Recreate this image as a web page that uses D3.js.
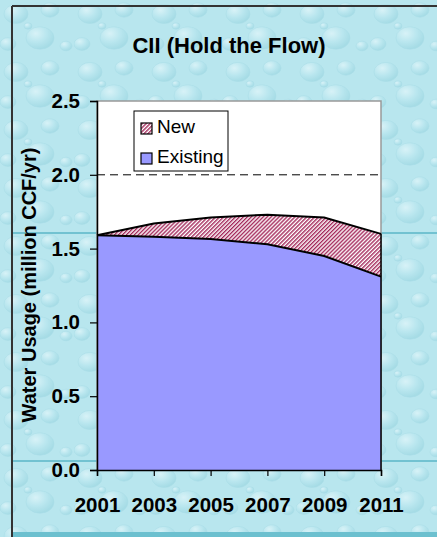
<!DOCTYPE html>
<html>
<head>
<meta charset="utf-8">
<script src="https://cdn.jsdelivr.net/npm/d3@7"></script>
<style>
  body { margin: 0; background: #fff; }
  svg { display: block; font-family: "Liberation Sans", Arial, sans-serif; }
</style>
</head>
<body>
<svg id="chart" width="437" height="537"></svg>
<script>
// data
const years = ["2001", "2003", "2005", "2007", "2009", "2011"];
const existing = [1.59, 1.58, 1.565, 1.53, 1.45, 1.31];
const added = [0.0, 0.09, 0.145, 0.20, 0.26, 0.29];
const yTicks = [0, 0.5, 1.0, 1.5, 2.0, 2.5];
const target = 2.0;

const width = 437, height = 537;
const m = { left: 97, right: 381, top: 101, bottom: 470 };

const svg = d3.select("#chart");
const defs = svg.append("defs");

// water texture background (rough stand-in)
const bg = defs.append("radialGradient").attr("id", "drop")
  .attr("cx", "35%").attr("cy", "30%").attr("r", "70%");
bg.append("stop").attr("offset", "0%").attr("stop-color", "#dff4f8");
bg.append("stop").attr("offset", "55%").attr("stop-color", "#b4e3ec");
bg.append("stop").attr("offset", "100%").attr("stop-color", "#98d4df");

const tex = defs.append("pattern").attr("id", "water")
  .attr("patternUnits", "userSpaceOnUse").attr("width", 74).attr("height", 58);
tex.append("rect").attr("width", 74).attr("height", 58).attr("fill", "#b2e2eb");
[[16, 14, 12], [50, 10, 9], [40, 38, 14], [8, 44, 8], [66, 46, 6], [28, 26, 4]].forEach(([cx, cy, r]) => {
  tex.append("ellipse").attr("cx", cx).attr("cy", cy).attr("rx", r).attr("ry", r * 0.8)
    .attr("fill", "url(#drop)").attr("stroke", "#9ad5e0").attr("stroke-width", 0.5);
});

// hatch for "New"
const hatch = defs.append("pattern").attr("id", "hatch")
  .attr("patternUnits", "userSpaceOnUse").attr("width", 2.8).attr("height", 2.8)
  .attr("patternTransform", "rotate(45)");
hatch.append("rect").attr("width", 2.8).attr("height", 2.8).attr("fill", "#fff");
hatch.append("line").attr("x1", 0.7).attr("y1", 0).attr("x2", 0.7).attr("y2", 2.8)
  .attr("stroke", "#a3285a").attr("stroke-width", 1.4);

svg.append("rect").attr("width", width).attr("height", height).attr("fill", "url(#water)");
svg.append("rect").attr("width", width).attr("height", height).attr("fill", "#c8eef4").attr("opacity", 0.3);

// tile seams
[233, 461].forEach(yy => svg.append("line").attr("x1", 12).attr("x2", width)
  .attr("y1", yy).attr("y2", yy).attr("stroke", "#72c2d1").attr("stroke-width", 2));
svg.append("rect").attr("x", 12).attr("y", 532).attr("width", width).attr("height", 5).attr("fill", "#6cc0cf");

// frame
svg.append("line").attr("x1", 12).attr("x2", width).attr("y1", 6).attr("y2", 6).attr("stroke", "#333").attr("stroke-width", 2);
svg.append("line").attr("x1", 12).attr("x2", 12).attr("y1", 6).attr("y2", height).attr("stroke", "#333").attr("stroke-width", 2);

// scales
const x = d3.scalePoint().domain(years).range([m.left, m.right]);
const y = d3.scaleLinear().domain([0, 2.5]).range([m.bottom, m.top]);

// plot area
svg.append("rect").attr("x", m.left).attr("y", m.top)
  .attr("width", m.right - m.left).attr("height", m.bottom - m.top)
  .attr("fill", "#fff").attr("stroke", "#999").attr("stroke-width", 1.5);

const rows = years.map((yr, i) => ({ yr, existing: existing[i], added: added[i] }));
const stack = d3.stack().keys(["existing", "added"])(rows);

const area = d3.area().x(d => x(d.data.yr)).y0(d => y(d[0])).y1(d => y(d[1]));
const edge = d3.line().x(d => x(d.data.yr)).y(d => y(d[1]));

svg.append("path").attr("d", area(stack[1])).attr("fill", "url(#hatch)");
svg.append("path").attr("d", area(stack[0])).attr("fill", "#9999ff");
svg.append("path").attr("d", edge(stack[1])).attr("fill", "none").attr("stroke", "#000").attr("stroke-width", 2);
svg.append("path").attr("d", edge(stack[0])).attr("fill", "none").attr("stroke", "#000").attr("stroke-width", 2);
svg.append("line").attr("x1", m.right).attr("x2", m.right)
  .attr("y1", y(existing[5] + added[5])).attr("y2", m.bottom).attr("stroke", "#000").attr("stroke-width", 1.5);

// target line
svg.append("line").attr("x1", m.left).attr("x2", m.right)
  .attr("y1", y(target)).attr("y2", y(target))
  .attr("stroke", "#000").attr("stroke-width", 1).attr("stroke-dasharray", "8,5");

// axes
const yAxis = svg.append("g").attr("transform", `translate(${m.left},0)`)
  .call(d3.axisLeft(y).tickValues(yTicks).tickFormat(d3.format(".1f")).tickSize(7).tickPadding(10));
const xAxis = svg.append("g").attr("transform", `translate(0,${m.bottom})`)
  .call(d3.axisBottom(x).tickSize(6).tickPadding(21));
[yAxis, xAxis].forEach(g => {
  g.select(".domain").attr("stroke", "#000").attr("stroke-width", 1.5);
  g.selectAll(".tick line").attr("stroke", "#000").attr("stroke-width", 1.2);
  g.selectAll("text").attr("fill", "#000").style("font-size", "20.5px").style("font-weight", "bold")
    .style("font-family", "'Liberation Sans', Arial, sans-serif");
});

// titles
svg.append("text").attr("x", 229).attr("y", 53).attr("text-anchor", "middle")
  .style("font-size", "22px").style("font-weight", "bold").text("CII (Hold the Flow)");
svg.append("text").attr("transform", `translate(36,285) rotate(-90)`)
  .attr("text-anchor", "middle").style("font-size", "20px").style("font-weight", "bold")
  .text("Water Usage (million CCF/yr)");

// legend
const lg = svg.append("g").attr("transform", "translate(134,111)");
lg.append("rect").attr("width", 94).attr("height", 60).attr("fill", "#fff").attr("stroke", "#000").attr("stroke-width", 1);
const items = [{ name: "New", fill: "url(#hatch)" }, { name: "Existing", fill: "#9999ff" }];
items.forEach((it, i) => {
  const gy = 12 + i * 30;
  lg.append("rect").attr("x", 7).attr("y", gy).attr("width", 11).attr("height", 11)
    .attr("fill", it.fill).attr("stroke", "#000").attr("stroke-width", 1.2);
  lg.append("text").attr("x", 23).attr("y", gy + 10).style("font-size", "19px").text(it.name);
});
</script>
</body>
</html>
